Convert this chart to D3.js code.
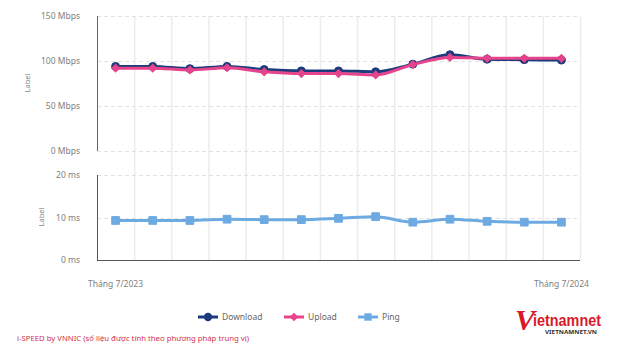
<!DOCTYPE html>
<html><head><meta charset="utf-8">
<script src="https://cdn.jsdelivr.net/npm/d3@7"></script>
<style>
html,body{margin:0;padding:0;background:#fff;}
svg{display:block;font-family:"Noto Sans",Lato,sans-serif;}
</style></head>
<body>
<svg id="c" width="620" height="358"></svg>
<script>
const months = ["Tháng 7/2023","Tháng 8/2023","Tháng 9/2023","Tháng 10/2023","Tháng 11/2023","Tháng 12/2023","Tháng 1/2024","Tháng 2/2024","Tháng 3/2024","Tháng 4/2024","Tháng 5/2024","Tháng 6/2024","Tháng 7/2024"];
const download = [94, 94, 91.5, 94, 90.5, 89, 89, 88, 96.5, 107, 102, 101.5, 101];
const upload   = [92, 92, 90, 92.5, 88, 86, 86, 84.5, 96, 104, 103, 103, 103];
const ping     = [9.3, 9.3, 9.3, 9.6, 9.5, 9.5, 9.8, 10.2, 8.9, 9.6, 9.1, 8.9, 8.9];
const speedTicks = [0, 50, 100, 150];
const pingTicks = [0, 10, 20];
const shownLabels = ["Tháng 7/2023", "Tháng 7/2024"];
const legendItems = ["Download", "Upload", "Ping"];
const footnote = "i-SPEED by VNNIC (số liệu được tính theo phương pháp trung vị)";

const C = {download:"#1c3b7c", upload:"#e6448c", ping:"#6eaae2"};
const svg = d3.select("#c");
const L = 97, R = 580;
const x = d3.scaleBand().domain(months).range([L, R]).padding(0);
const cx = d => x(d) + x.bandwidth()/2;
const yT = d3.scaleLinear().domain([0,150]).range([151,16]);
const yB = d3.scaleLinear().domain([0,20]).range([260,175]);

// vertical grid
const vg = svg.append("g");
months.slice(1).concat([null]).forEach((m,i)=>{
  const xx = m ? x(m) : R;
  vg.append("line").attr("x1",xx+0.5).attr("x2",xx+0.5).attr("y1",16).attr("y2",260)
    .attr("stroke","#ececec").attr("stroke-width",1.5);
});
// horizontal grid
function hgrid(scale, ticks, unit, skipBottom){
  ticks.forEach(t=>{
    const yy = Math.round(scale(t))+0.5;
    if(!(skipBottom && t===0)){
      svg.append("line").attr("x1",L).attr("x2",R).attr("y1",yy).attr("y2",yy)
        .attr("stroke","#e2e2e2").attr("stroke-dasharray","4,3");
    }
    svg.append("text").attr("x",80).attr("y",yy).attr("dy","0.35em").attr("text-anchor","end")
      .attr("font-size",8.5).attr("fill","#808080").text(t+" "+unit);
  });
}
hgrid(yT, speedTicks, "Mbps", false);
hgrid(yB, pingTicks, "ms", true);

// axes lines
svg.append("line").attr("x1",L+0.5).attr("x2",L+0.5).attr("y1",16).attr("y2",151).attr("stroke","#666");
svg.append("line").attr("x1",L+0.5).attr("x2",L+0.5).attr("y1",175).attr("y2",260).attr("stroke","#555");
svg.append("line").attr("x1",L).attr("x2",R).attr("y1",260.5).attr("y2",260.5).attr("stroke","#555");

// y labels
svg.append("text").attr("transform","translate(30,83) rotate(-90)").attr("text-anchor","middle")
  .attr("font-size",7.5).attr("fill","#888").text("Label");
svg.append("text").attr("transform","translate(44,217) rotate(-90)").attr("text-anchor","middle")
  .attr("font-size",7.5).attr("fill","#888").text("Label");

// x labels
shownLabels.forEach(m=>{
  svg.append("text").attr("x",cx(m)).attr("y",287).attr("text-anchor","middle")
    .attr("font-size",8.5).attr("fill","#808080").text(m);
});

const curve = d3.curveMonotoneX;
function series(vals, scale, color, sym, size, rot){
  const line = d3.line().x((d,i)=>cx(months[i])).y(d=>scale(d)).curve(curve);
  svg.append("path").attr("d",line(vals)).attr("fill","none").attr("stroke",color).attr("stroke-width",3);
  svg.append("g").selectAll("path").data(vals).join("path")
    .attr("transform",(d,i)=>`translate(${cx(months[i])},${scale(d)}) rotate(${rot||0})`)
    .attr("d",d3.symbol().type(sym).size(size)).attr("fill",color).attr("stroke",color).attr("stroke-width",1);
}
series(download, yT, C.download, d3.symbolCircle, 50);
series(upload, yT, C.upload, d3.symbolSquare, 30, 45);
series(ping, yB, C.ping, d3.symbolSquare, 60);

// legend
const lg = [{c:C.download,s:d3.symbolCircle,x:208,sz:55,r:0},{c:C.upload,s:d3.symbolSquare,x:294,sz:36,r:45},{c:C.ping,s:d3.symbolSquare,x:368,sz:55,r:0}];
lg.forEach((d,i)=>{
  const g = svg.append("g").attr("transform",`translate(${d.x},317)`);
  g.append("line").attr("x1",-10).attr("x2",10).attr("stroke",d.c).attr("stroke-width",3);
  g.append("path").attr("transform",`rotate(${d.r})`).attr("d",d3.symbol().type(d.s).size(d.sz)).attr("fill",d.c);
  g.append("text").attr("x",14).attr("dy","0.35em").attr("font-size",8.5).attr("fill","#666").text(legendItems[i]);
});

// footnote
svg.append("text").attr("x",17).attr("y",341).attr("font-size",7).attr("fill","#d2334f")
  .attr("textLength",232).attr("lengthAdjust","spacingAndGlyphs").text(footnote);

// logo
const lgo = svg.append("g").attr("transform","translate(515,300)");
lgo.append("text").attr("x",0).attr("y",30).attr("font-size",30).attr("font-weight","bold")
  .attr("font-style","italic").attr("fill","#d7192a").attr("font-family","Liberation Serif").text("V");
lgo.append("text").attr("x",18).attr("y",26).attr("font-size",17).attr("font-weight","bold")
  .attr("fill","#d7192a").attr("font-family","Liberation Sans Narrow, Liberation Sans").attr("textLength",68).attr("lengthAdjust","spacingAndGlyphs").text("ietnamnet");
lgo.append("text").attr("x",30).attr("y",34).attr("font-size",5).attr("font-weight","bold")
  .attr("fill","#333").attr("textLength",52).attr("lengthAdjust","spacingAndGlyphs").text("VIETNAMNET.VN");
</script>
</body></html>
